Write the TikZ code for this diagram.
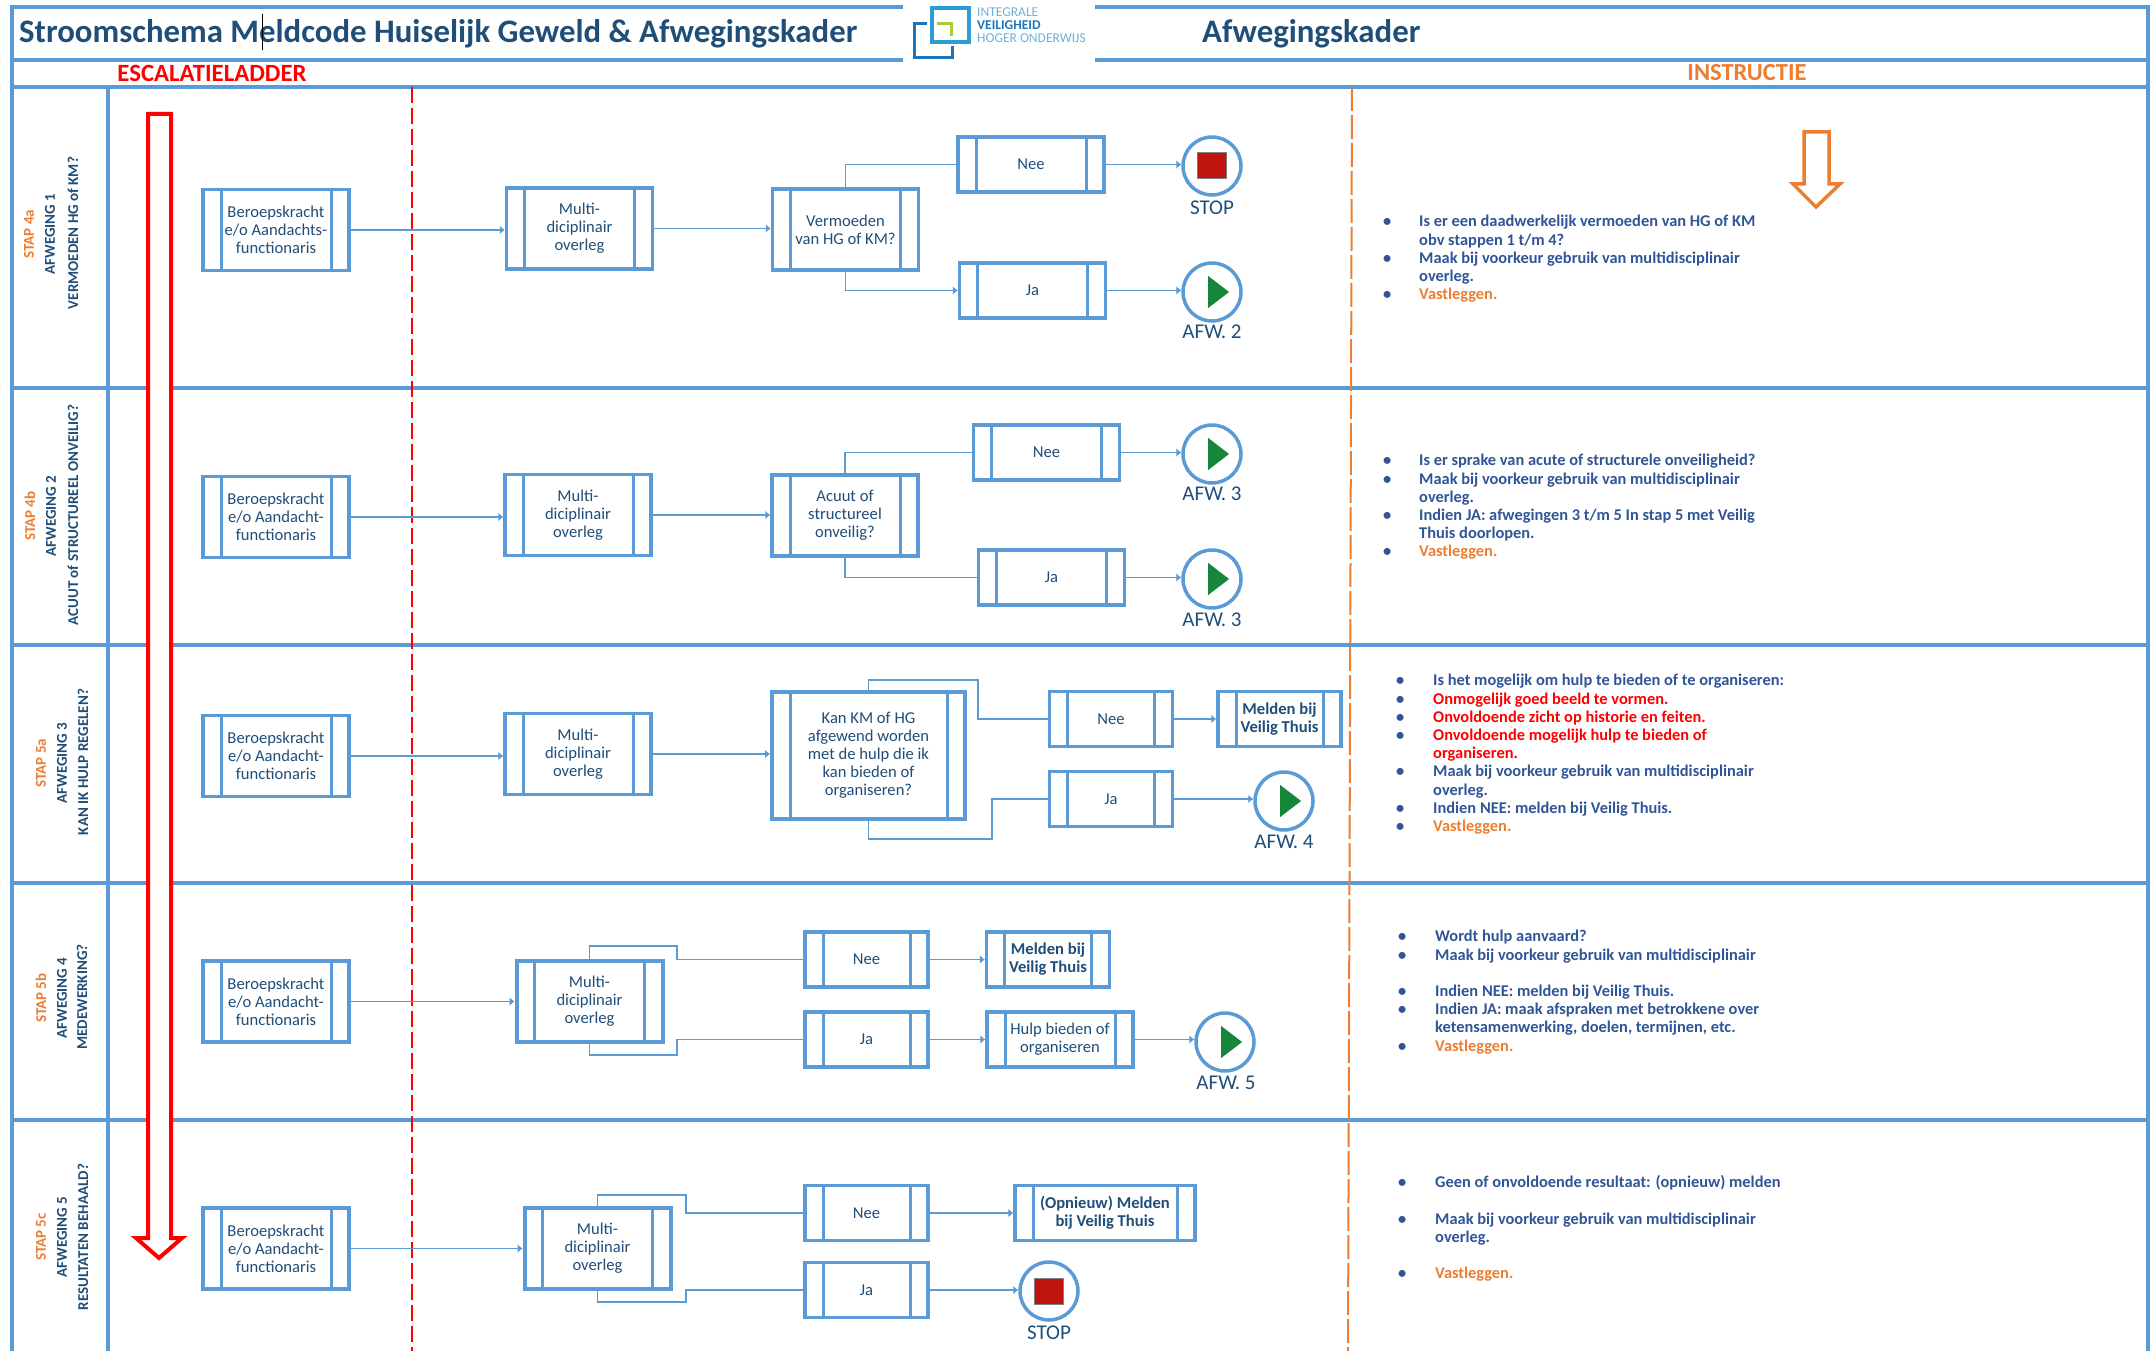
\documentclass[tikz,border=0pt]{standalone}
\usepackage{fontspec}
\setmainfont{Carlito}
\usetikzlibrary{arrows.meta,shapes.geometric}

\definecolor{laneblue}{HTML}{5B9BD5}
\definecolor{textblue}{HTML}{1F4E79}
\definecolor{instrblue}{HTML}{2F5597}
\definecolor{staporanje}{HTML}{ED7D31}
\definecolor{stopred}{HTML}{C0140F}
\definecolor{playgreen}{HTML}{16873A}
\definecolor{logolight}{HTML}{2D9CD2}
\definecolor{logodark}{HTML}{1B75BC}
\definecolor{logogreen}{HTML}{A6CE39}
\definecolor{logotext}{HTML}{6FAFD6}

\newcommand{\oranje}[1]{\textcolor{staporanje}{#1}}
\newcommand{\rood}[1]{\textcolor{red}{#1}}

\tikzset{
    subproc/.style={draw=laneblue, line width=3.5pt, fill=white, text=textblue, inner sep=0pt, align=center,
        font=\fontsize{16.6}{18}\selectfont,
        path picture={
            \draw[laneblue, line width=3pt] ([xshift=18pt]path picture bounding box.north west) -- ([xshift=18pt]path picture bounding box.south west);
            \draw[laneblue, line width=3pt] ([xshift=-18pt]path picture bounding box.north east) -- ([xshift=-18pt]path picture bounding box.south east);
        }},
    stdbox/.style={subproc, minimum width=146, minimum height=81},
    ansbox/.style={subproc, minimum width=123, minimum height=55},
    wideans/.style={subproc, minimum width=146, minimum height=55},
    thickbox/.style={line width=4pt},
    evt/.style={circle, draw=laneblue, line width=3.5pt, fill=white, minimum size=58, inner sep=0pt},
    stopmark/.style={rectangle, fill=stopred, draw=gray, line width=1pt, minimum width=29, minimum height=26, inner sep=0pt},
    playmark/.style={isosceles triangle, isosceles triangle apex angle=75, fill=playgreen, minimum height=21, inner sep=0pt},
    evtlabel/.style={text=textblue, font=\fontsize{21}{23}\selectfont},
    flow/.style={draw=laneblue, line width=1.8pt, -{Latex[length=5pt,width=9pt]}},
    link/.style={draw=laneblue, line width=1.8pt},
    lane/.style={draw=laneblue, line width=4pt},
    stap/.style={rotate=90, text=staporanje, font=\bfseries\fontsize{15}{17}\selectfont},
    side/.style={rotate=90, text=textblue, font=\bfseries\fontsize{15}{17}\selectfont},
    instr/.style={anchor=north west, inner sep=0pt, text=instrblue, font=\bfseries\fontsize{16.4}{18.2}\selectfont},
    kop/.style={text=textblue, font=\bfseries\fontsize{32.8}{36}\selectfont},
    logotxt/.style={anchor=west, inner sep=0pt, text=logotext, font=\fontsize{13.5}{14}\selectfont}
}

\begin{document}
\begin{tikzpicture}[x=1pt,y=-1pt]
    \useasboundingbox (0,0) rectangle (2150,1351);

    % kader en rijen
    \draw[lane] (12,1351) -- (12,7) -- (903,7);
    \draw[lane] (1095,7) -- (2148,7) -- (2148,1351);
    \draw[lane] (12,60) -- (903,60);
    \draw[lane] (1095,60) -- (2148,60);
    \draw[lane] (12,87) -- (2148,87);
    \draw[lane] (12,388) -- (2148,388);
    \draw[lane] (12,645) -- (2148,645);
    \draw[lane] (12,883) -- (2148,883);
    \draw[lane] (12,1120) -- (2148,1120);
    \draw[lane, line width=3.5pt] (108,87) -- (108,1351);
    \draw[red, line width=2pt, dash pattern=on 16pt off 5pt] (412,87) -- (412,1351);
    \draw[staporanje, line width=2pt, dash pattern=on 24pt off 4pt] (1352,87) -- (1348,1351);

    % koppen
    \node[kop, anchor=west, inner sep=0pt] (titel) at (19,34) {Stroomschema Meldcode Huiselijk Geweld \& Afwegingskader};
    \node[kop, anchor=west, inner sep=0pt] (kader) at (1202,34) {Afwegingskader};
    \draw[black, line width=1pt] (262,14) -- (262,50);
    \node[text=red, font=\bfseries\fontsize{24.8}{26}\selectfont] (ladder) at (212,73) {ESCALATIELADDER};
    \node[text=staporanje, font=\bfseries\fontsize{24.5}{26}\selectfont] (instructie) at (1747,73) {INSTRUCTIE};

    % logo
    \draw[logolight, line width=3.5pt] (932,8) rectangle (969,42);
    \draw[logodark, line width=3pt] (927,24) -- (914,24) -- (914,58) -- (952,58) -- (952,46);
    \draw[logogreen, line width=3pt] (937,24) -- (951,24) -- (951,36);
    \node[logotxt] (logoa) at (977,12) {INTEGRALE};
    \node[logotxt, text=logodark, font=\bfseries\fontsize{13.5}{14}\selectfont] (logob) at (977,25) {VEILIGHEID};
    \node[logotxt] (logoc) at (977,38) {HOGER ONDERWIJS};

    % pijlen
    \draw[red, line width=4pt, fill=white, line join=miter] (148,114) -- (171,114) -- (171,1238) -- (182,1238) -- (159,1258) -- (136,1238) -- (148,1238) -- cycle;
    \draw[staporanje, line width=3.5pt, fill=white] (1804,132) -- (1829,132) -- (1829,184) -- (1840,184) -- (1816,207) -- (1793,184) -- (1804,184) -- cycle;

    % zijlabels
    \node[stap] (stapa) at (29,234) {STAP 4a};
    \node[side] (afwa) at (50,234) {AFWEGING 1};
    \node[side] (vraaga) at (73,233) {VERMOEDEN HG of KM?};
    \node[stap] (stapb) at (30,516) {STAP 4b};
    \node[side] (afwb) at (51,516) {AFWEGING 2};
    \node[side] (vraagb) at (73,515) {ACUUT of STRUCTUREEL ONVEILIG?};
    \node[stap] (stapc) at (41,763) {STAP 5a};
    \node[side] (afwc) at (62,763) {AFWEGING 3};
    \node[side] (vraagc) at (83,762) {KAN IK HULP REGELEN?};
    \node[stap] (stapd) at (41,998) {STAP 5b};
    \node[side] (afwd) at (62,998) {AFWEGING 4};
    \node[side] (vraagd) at (82,997) {MEDEWERKING?};
    \node[stap] (stape) at (41,1237) {STAP 5c};
    \node[side] (afwe) at (62,1237) {AFWEGING 5};
    \node[side] (vraage) at (83,1237) {RESULTATEN BEHAALD?};

    % rij 4a
    \node[stdbox] (bk1) at (276,230) {Beroepskracht\\e/o Aandachts-\\functionaris};
    \node[stdbox] (mo1) at (579.5,228.5) {Multi-\\diciplinair\\overleg};
    \node[stdbox] (verm) at (845.5,229.5) {Vermoeden\\van HG of KM?};
    \node[wideans] (nee1) at (1031,164.5) {Nee};
    \node[wideans] (ja1) at (1032.5,290.5) {Ja};
    \node[evt] (stop1) at (1212,166) {};
    \node[stopmark] (stop1m) at (stop1) {};
    \node[evtlabel] (stop1t) at (1212,208) {STOP};
    \node[evt] (afw2) at (1212,292) {};
    \node[playmark] (afw2m) at (1216,292) {};
    \node[evtlabel] (afw2t) at (1212,332) {AFW. 2};
    \draw[flow] (bk1.east) -- (bk1.east -| mo1.west);
    \draw[flow] (mo1.east) -- (mo1.east -| verm.west);
    \draw[link] (verm.north) |- (nee1.west);
    \draw[flow] (verm.south) |- (ja1.west);
    \draw[flow] (nee1.east) -- (nee1.east -| stop1.west);
    \draw[flow] (ja1.east) -- (ja1.east -| afw2.west);
    \node[instr] (instr1) at (1383,214) {\begin{tabular}{@{}p{36pt}@{}l@{}}
        \textbullet & Is er een daadwerkelijk vermoeden van HG of KM\\
        & obv stappen 1 t/m 4?\\
        \textbullet & Maak bij voorkeur gebruik van multidisciplinair\\
        & overleg.\\
        \textbullet & \oranje{Vastleggen.}
    \end{tabular}};

    % rij 4b
    \node[stdbox] (bk2) at (276,517) {Beroepskracht\\e/o Aandacht-\\functionaris};
    \node[stdbox] (mo2) at (578,515) {Multi-\\diciplinair\\overleg};
    \node[stdbox] (acuut) at (845,515.5) {Acuut of\\structureel\\onveilig?};
    \node[wideans] (nee2) at (1046.5,452.5) {Nee};
    \node[wideans] (ja2) at (1051.5,577.5) {Ja};
    \node[evt] (afw3a) at (1212,454) {};
    \node[playmark] (afw3am) at (1216,454) {};
    \node[evtlabel] (afw3at) at (1212,494) {AFW. 3};
    \node[evt] (afw3b) at (1212,579) {};
    \node[playmark] (afw3bm) at (1216,579) {};
    \node[evtlabel] (afw3bt) at (1212,620) {AFW. 3};
    \draw[flow] (bk2.east) -- (bk2.east -| mo2.west);
    \draw[flow] (mo2.east) -- (mo2.east -| acuut.west);
    \draw[link] (acuut.north) |- (nee2.west);
    \draw[link] (acuut.south) |- (ja2.west);
    \draw[flow] (nee2.east) -- (nee2.east -| afw3a.west);
    \draw[flow] (ja2.east) -- (ja2.east -| afw3b.west);
    \node[instr] (instr2) at (1383,453) {\begin{tabular}{@{}p{36pt}@{}l@{}}
        \textbullet & Is er sprake van acute of structurele onveiligheid?\\
        \textbullet & Maak bij voorkeur gebruik van multidisciplinair\\
        & overleg.\\
        \textbullet & Indien JA: afwegingen 3 t/m 5 In stap 5 met Veilig\\
        & Thuis doorlopen.\\
        \textbullet & \oranje{Vastleggen.}
    \end{tabular}};

    % rij 5a
    \node[stdbox] (bk3) at (276,756) {Beroepskracht\\e/o Aandacht-\\functionaris};
    \node[stdbox] (mo3) at (578,754) {Multi-\\diciplinair\\overleg};
    \node[subproc, thickbox, minimum width=193, minimum height=127] (kan) at (868.5,755.5) {Kan KM of HG\\afgewend worden\\met de hulp die ik\\kan bieden of\\organiseren?};
    \node[ansbox] (nee3) at (1111,719) {Nee};
    \node[ansbox, font=\bfseries\fontsize{16.6}{18}\selectfont] (meld3) at (1279.5,719) {Melden bij\\Veilig Thuis};
    \node[ansbox] (ja3) at (1111,799) {Ja};
    \node[evt] (afw4) at (1284,801) {};
    \node[playmark] (afw4m) at (1288,801) {};
    \node[evtlabel] (afw4t) at (1284,842) {AFW. 4};
    \coordinate (kanup) at (978,680);
    \coordinate (kandown) at (992,839);
    \draw[flow] (bk3.east) -- (bk3.east -| mo3.west);
    \draw[flow] (mo3.east) -- (mo3.east -| kan.west);
    \draw[link] (kan.north) |- (kanup) |- (nee3.west);
    \draw[link] (kan.south) |- (kandown) |- (ja3.west);
    \draw[flow] (nee3.east) -- (nee3.east -| meld3.west);
    \draw[flow] (ja3.east) -- (ja3.east -| afw4.west);
    \node[instr] (instr3) at (1396,673) {\begin{tabular}{@{}p{37pt}@{}l@{}}
        \textbullet & Is het mogelijk om hulp te bieden of te organiseren:\\
        \textbullet & \rood{Onmogelijk goed beeld te vormen.}\\
        \textbullet & \rood{Onvoldoende zicht op historie en feiten.}\\
        \textbullet & \rood{Onvoldoende mogelijk hulp te bieden of}\\
        & \rood{organiseren.}\\
        \textbullet & Maak bij voorkeur gebruik van multidisciplinair\\
        & overleg.\\
        \textbullet & Indien NEE: melden bij Veilig Thuis.\\
        \textbullet & \oranje{Vastleggen.}
    \end{tabular}};

    % rij 5b
    \node[stdbox] (bk4) at (276,1001.5) {Beroepskracht\\e/o Aandacht-\\functionaris};
    \node[stdbox, thickbox] (mo4) at (589.5,1001) {Multi-\\diciplinair\\overleg};
    \node[ansbox] (nee4) at (866.5,959.5) {Nee};
    \node[ansbox, font=\bfseries\fontsize{16.6}{18}\selectfont] (meld4) at (1048,959.5) {Melden bij\\Veilig Thuis};
    \node[ansbox] (ja4) at (866.5,1039.5) {Ja};
    \node[wideans] (hulp) at (1060,1039.5) {Hulp bieden of\\organiseren};
    \node[evt] (afw5) at (1225,1042) {};
    \node[playmark] (afw5m) at (1229,1042) {};
    \node[evtlabel] (afw5t) at (1226,1083) {AFW. 5};
    \coordinate (mo4up) at (677,946);
    \coordinate (mo4down) at (677,1055);
    \draw[flow] (bk4.east) -- (bk4.east -| mo4.west);
    \draw[link] (mo4.north) |- (mo4up) |- (nee4.west);
    \draw[link] (mo4.south) |- (mo4down) |- (ja4.west);
    \draw[flow] (nee4.east) -- (nee4.east -| meld4.west);
    \draw[flow] (ja4.east) -- (ja4.east -| hulp.west);
    \draw[flow] (hulp.east) -- (hulp.east -| afw5.west);
    \node[instr] (instr4) at (1398,929) {\begin{tabular}{@{}p{37pt}@{}l@{}}
        \textbullet & Wordt hulp aanvaard?\\
        \textbullet & Maak bij voorkeur gebruik van multidisciplinair\\
        & \\
        \textbullet & Indien NEE: melden bij Veilig Thuis.\\
        \textbullet & Indien JA: maak afspraken met betrokkene over\\
        & ketensamenwerking, doelen, termijnen, etc.\\
        \textbullet & \oranje{Vastleggen.}
    \end{tabular}};

    % rij 5c
    \node[stdbox] (bk5) at (276,1248.5) {Beroepskracht\\e/o Aandacht-\\functionaris};
    \node[stdbox, thickbox] (mo5) at (597.5,1248.5) {Multi-\\diciplinair\\overleg};
    \node[ansbox] (nee5) at (866.5,1213) {Nee};
    \node[ansbox, minimum width=180, font=\bfseries\fontsize{16.6}{18}\selectfont] (opn) at (1105,1213) {(Opnieuw) Melden\\bij Veilig Thuis};
    \node[ansbox] (ja5) at (866.5,1290) {Ja};
    \node[evt] (stop5) at (1049,1291) {};
    \node[stopmark] (stop5m) at (stop5) {};
    \node[evtlabel] (stop5t) at (1049,1333) {STOP};
    \coordinate (mo5up) at (686,1195);
    \coordinate (mo5down) at (686,1302);
    \draw[flow] (bk5.east) -- (bk5.east -| mo5.west);
    \draw[link] (mo5.north) |- (mo5up) |- (nee5.west);
    \draw[link] (mo5.south) |- (mo5down) |- (ja5.west);
    \draw[flow] (nee5.east) -- (nee5.east -| opn.west);
    \draw[flow] (ja5.east) -- (ja5.east -| stop5.west);
    \node[instr] (instr5) at (1398,1175) {\begin{tabular}{@{}p{37pt}@{}l@{}}
        \textbullet & Geen of onvoldoende resultaat: (opnieuw) melden\\
        & \\
        \textbullet & Maak bij voorkeur gebruik van multidisciplinair\\
        & overleg.\\
        & \\
        \textbullet & \oranje{Vastleggen.}
    \end{tabular}};
\end{tikzpicture}
\end{document}
